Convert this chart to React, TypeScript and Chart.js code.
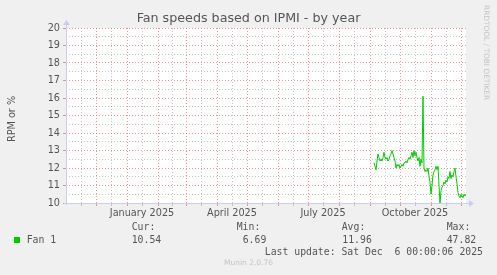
import React, { useEffect, useRef } from 'react';
import { Chart, registerables } from 'chart.js';

Chart.register(...registerables);

// ---------- data ----------
const TITLE = 'Fan speeds based on IPMI - by year';
const Y_TITLE = 'RPM or %';
const SERIES_NAME = 'Fan 1';
// x axis: days counted from 2024-11-01 (left edge of the plot) to 2025-12-06
const X_MIN_DAY = 0;
const X_MAX_DAY = 400;
const FIRST_SAMPLE_DAY = 308; // 2025-09-04, one sample per day
const fanValues = [
  12.3, 12.1, 11.9, 12.4, 12.8, 12.6, 12.4, 12.5, 12.4, 12.6,
  12.9, 12.6, 12.5, 12.6, 12.4, 12.5, 12.7, 12.8, 13.0, 12.8,
  12.6, 12.4, 12.0, 12.2, 12.1, 12.2, 12.0, 12.1, 12.2, 12.1,
  12.3, 12.3, 12.4, 12.3, 12.5, 12.6, 12.5, 12.7, 12.9, 12.6,
  13.0, 12.7, 12.9, 12.6, 12.4, 12.6, 12.1, 12.5, 12.3, 16.1,
  12.0, 11.8, 11.9, 11.8, 12.0, 11.5, 11.2, 10.5, 11.0, 11.6,
  11.8, 11.9, 12.1, 11.9, 12.1, 11.0, 10.0, 10.7, 10.9, 11.0,
  11.2, 11.1, 11.3, 11.2, 11.5, 11.4, 11.8, 11.4, 11.6, 11.5,
  11.8, 12.0, 11.5, 11.1, 10.6, 10.4, 10.3, 10.5, 10.4, 10.3,
  10.5, 10.4, 10.5,
];
// month starts (major grid), Dec 2024 .. Dec 2025
const monthStartDays = [30, 61, 92, 120, 151, 181, 212, 242, 273, 304, 334, 365, 395];
// mid-month minor grid
const minorGridDays = [15, 45, 76, 106, 135, 166, 196, 227, 257, 288, 319, 349, 380];
const xLabelDays = [76, 166, 257, 349];
const xLabelTexts = ['January 2025', 'April 2025', 'July 2025', 'October 2025'];
const Y_MIN = 10;
const Y_MAX = 20;
const Y_STEP = 0.5;
const legendHeaders = ['Cur:', 'Min:', 'Avg:', 'Max:'];
const legendValues = ['10.54', '6.69', '11.96', '47.82'];
const LAST_UPDATE = 'Last update: Sat Dec  6 00:00:06 2025';
const FOOTER = 'Munin 2.0.76';
const WATERMARK = 'RRDTOOL / TOBI OETIKER';

// ---------- style ----------
const W = 497;
const H = 275;
const BG = '#f0f0f0';
const TEXT = '#555555';
const LINE = '#00cc00';
const MAJOR = 'rgba(222, 79, 79, 0.6)';
const MINOR = 'rgba(150, 150, 150, 0.55)';
const AXIS = '#c9cdf2';
const SANS = '"DejaVu Sans", sans-serif';
const MONO = '"DejaVu Sans Mono", monospace';

const headerX = [131.7, 236.7, 341.7, 446.7];
const valueX = [131.7, 242.7, 342.3, 446.7];

const mkPlugin = () => ({
  id: 'munin',
  beforeDraw(chart: any) {
    const { ctx, chartArea: a } = chart;
    ctx.save();
    ctx.fillStyle = BG;
    ctx.fillRect(0, 0, W, H);
    ctx.fillStyle = '#ffffff';
    ctx.fillRect(a.left, a.top, a.right - a.left, a.bottom - a.top);
    ctx.restore();
  },
  afterDraw(chart: any) {
    const { ctx, chartArea: a } = chart;
    ctx.save();
    // axes with arrows
    ctx.strokeStyle = AXIS;
    ctx.fillStyle = AXIS;
    ctx.lineWidth = 1;
    ctx.beginPath();
    ctx.moveTo(a.left - 2, a.bottom + 0.5);
    ctx.lineTo(a.right + 4, a.bottom + 0.5);
    ctx.moveTo(a.left + 0.5, a.bottom + 2);
    ctx.lineTo(a.left + 0.5, a.top - 4);
    ctx.stroke();
    ctx.beginPath();
    ctx.moveTo(a.right + 8, a.bottom + 0.5);
    ctx.lineTo(a.right + 3, a.bottom - 3);
    ctx.lineTo(a.right + 3, a.bottom + 4);
    ctx.closePath();
    ctx.fill();
    ctx.beginPath();
    ctx.moveTo(a.left + 0.5, a.top - 8);
    ctx.lineTo(a.left - 3, a.top - 3);
    ctx.lineTo(a.left + 4, a.top - 3);
    ctx.closePath();
    ctx.fill();

    // title
    ctx.fillStyle = TEXT;
    ctx.font = `12.7px ${SANS}`;
    ctx.textAlign = 'center';
    ctx.textBaseline = 'middle';
    ctx.fillText(TITLE, W / 2, 19);

    // y title
    ctx.save();
    ctx.translate(12, 119);
    ctx.rotate(-Math.PI / 2);
    ctx.font = `9.7px ${SANS}`;
    ctx.fillText(Y_TITLE, 0, 0);
    ctx.restore();

    // watermark
    ctx.save();
    ctx.translate(486, 5);
    ctx.rotate(Math.PI / 2);
    ctx.font = `7.4px ${SANS}`;
    ctx.fillStyle = '#c4c4c4';
    ctx.textAlign = 'left';
    ctx.textBaseline = 'middle';
    ctx.fillText(WATERMARK, 0, 0);
    ctx.restore();

    // legend
    ctx.fillStyle = LINE;
    ctx.fillRect(14, 237, 6, 6);
    ctx.strokeStyle = '#000000';
    ctx.fillStyle = TEXT;
    ctx.font = `9.8px ${MONO}`;
    ctx.textAlign = 'left';
    ctx.textBaseline = 'middle';
    ctx.fillText(SERIES_NAME, 26.7, 240);
    legendHeaders.forEach((h, i) => ctx.fillText(h, headerX[i], 227.5));
    legendValues.forEach((v, i) => ctx.fillText(v, valueX[i], 240));
    ctx.textAlign = 'right';
    ctx.fillText(LAST_UPDATE, 483, 252);

    // footer
    ctx.textAlign = 'center';
    ctx.font = `7.5px ${SANS}`;
    ctx.fillStyle = '#c4c4c4';
    ctx.fillText(FOOTER, W / 2, 263.5);
    ctx.restore();
  },
});

export default function App() {
  const ref = useRef<HTMLCanvasElement | null>(null);

  useEffect(() => {
    if (!ref.current) return;
    const xTickDays = [...monthStartDays, ...minorGridDays].sort((p, q) => p - q);
    const chart = new Chart(ref.current, {
      type: 'line',
      data: {
        datasets: [
          {
            label: SERIES_NAME,
            data: fanValues.map((v, i) => ({ x: FIRST_SAMPLE_DAY + i, y: v })),
            borderColor: LINE,
            backgroundColor: LINE,
            borderWidth: 1,
            pointRadius: 0,
            tension: 0,
          },
        ],
      },
      options: {
        animation: false,
        responsive: false,
        devicePixelRatio: 1,
        layout: { padding: { top: 28, right: 31, left: 0, bottom: 0 } },
        plugins: { legend: { display: false }, tooltip: { enabled: false }, title: { display: false } },
        scales: {
          x: {
            type: 'linear',
            min: X_MIN_DAY,
            max: X_MAX_DAY,
            afterBuildTicks: (scale: any) => {
              scale.ticks = xTickDays.map((d) => ({ value: d }));
            },
            afterFit: (scale: any) => {
              scale.height = H - 203;
            },
            ticks: {
              autoSkip: false,
              maxRotation: 0,
              minRotation: 0,
              padding: 2,
              color: TEXT,
              font: { family: SANS, size: 9.7 },
              callback: (v: any) => {
                const k = xLabelDays.indexOf(Number(v));
                return k >= 0 ? xLabelTexts[k] : '';
              },
            },
            grid: {
              color: (c: any) => (monthStartDays.includes(c.tick?.value) ? MAJOR : MINOR),
              tickColor: (c: any) => (monthStartDays.includes(c.tick?.value) ? MAJOR : MINOR),
              lineWidth: 1,
              drawTicks: true,
              tickLength: 3,
            },
            border: { display: false, dash: [1, 2] },
          },
          y: {
            type: 'linear',
            min: Y_MIN,
            max: Y_MAX,
            afterFit: (scale: any) => {
              scale.width = 66;
            },
            ticks: {
              stepSize: Y_STEP,
              autoSkip: false,
              padding: 3,
              color: TEXT,
              font: { family: SANS, size: 9.7 },
              callback: (v: any) => (Number.isInteger(Number(v)) ? String(v) : ''),
            },
            grid: {
              color: (c: any) => (Number.isInteger(c.tick?.value) ? MAJOR : MINOR),
              tickColor: (c: any) => (Number.isInteger(c.tick?.value) ? MAJOR : 'rgba(0,0,0,0)'),
              lineWidth: 1,
              drawTicks: true,
              tickLength: 3,
            },
            border: { display: false, dash: [1, 2] },
          },
        },
      },
      plugins: [mkPlugin()],
    } as any);
    return () => chart.destroy();
  }, []);

  return (
    <div style={{ position: 'fixed', left: 0, top: 0, width: W, height: H, background: BG }}>
      <canvas ref={ref} width={W} height={H} style={{ display: 'block', width: W, height: H }} />
    </div>
  );
}
